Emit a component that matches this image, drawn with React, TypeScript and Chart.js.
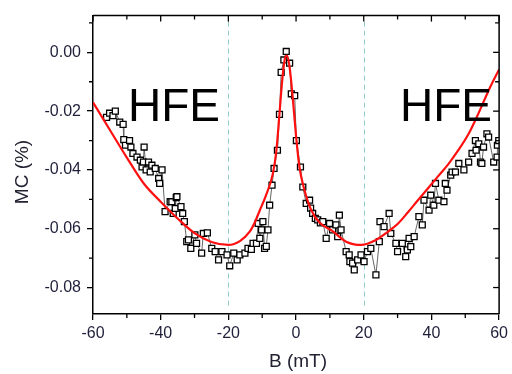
import React, { useEffect, useRef } from "react";
import { Chart, registerables } from "chart.js";

Chart.register(...registerables);

// Measured data (B in mT, MC in %)
const bField = [
  -56.0, -55.1, -54.1, -53.4, -52.1, -51.1, -50.9, -50.4, -49.2, -48.8, -48.2, -47.0, -46.0, -45.5, -45.1, -44.9,
  -44.3, -43.6, -43.1, -42.6, -41.6, -40.6, -40.3, -39.6, -38.7, -37.2, -36.7, -36.3, -35.7, -35.4, -35.2, -34.0,
  -33.5, -33.0, -32.3, -31.8, -31.1, -29.9, -29.4, -27.9, -27.4, -26.2, -24.9, -23.9, -22.9, -21.9, -20.4, -19.6,
  -18.4, -17.4, -16.6, -15.1, -14.2, -13.2, -12.7, -11.7, -11.2, -10.7, -10.2, -9.8, -9.3, -8.8, -8.3, -7.8,
  -7.1, -6.5, -5.5, -4.9, -4.4, -3.6, -2.9, -1.9, -1.4, -0.4, 0.1, 1.3, 2.0, 3.0, 4.0, 4.3,
  4.9, 5.7, 6.4, 7.2, 7.9, 8.9, 9.9, 10.8, 11.8, 12.3, 12.8, 13.3, 14.8, 15.7, 15.9, 16.7,
  17.2, 18.2, 19.2, 20.1, 21.1, 22.1, 23.6, 24.6, 24.8, 26.0, 27.5, 28.0, 29.5, 30.0, 31.4, 32.4,
  32.9, 33.4, 33.9, 34.9, 36.3, 37.3, 37.8, 39.3, 39.8, 40.7, 41.2, 42.2, 43.7, 44.1, 44.6, 45.7,
  46.1, 47.1, 48.1, 49.6, 51.0, 52.0, 53.0, 53.2, 54.0, 54.5, 54.9, 55.4, 56.4, 56.9, 58.4, 59.4,
  59.5, 59.9,
];
const mcData = [
  -0.0221, -0.0207, -0.0215, -0.0200, -0.0237, -0.0245, -0.0297, -0.0316, -0.0300, -0.0322, -0.0344, -0.0356, -0.0367, -0.0390, -0.0373, -0.0322,
  -0.0400, -0.0373, -0.0407, -0.0384, -0.0395, -0.0429, -0.0446, -0.0400, -0.0542, -0.0508, -0.0508, -0.0548, -0.0531, -0.0494, -0.0491, -0.0525,
  -0.0548, -0.0576, -0.0644, -0.0638, -0.0667, -0.0621, -0.0650, -0.0683, -0.0616, -0.0614, -0.0667, -0.0678, -0.0706, -0.0678, -0.0689, -0.0726,
  -0.0683, -0.0706, -0.0689, -0.0683, -0.0667, -0.0670, -0.0650, -0.0650, -0.0582, -0.0633, -0.0604, -0.0576, -0.0667, -0.0660, -0.0604, -0.0520,
  -0.0452, -0.0395, -0.0333, -0.0211, -0.0068, -0.0026, 0.0003, -0.0037, -0.0141, -0.0147, -0.0300, -0.0390, -0.0458, -0.0514, -0.0503, -0.0530,
  -0.0548, -0.0565, -0.0570, -0.0580, -0.0576, -0.0633, -0.0582, -0.0604, -0.0587, -0.0627, -0.0554, -0.0604, -0.0678, -0.0689, -0.0712, -0.0717,
  -0.0740, -0.0706, -0.0689, -0.0712, -0.0678, -0.0667, -0.0757, -0.0644, -0.0576, -0.0593, -0.0548, -0.0616, -0.0650, -0.0678, -0.0650, -0.0695,
  -0.0672, -0.0633, -0.0661, -0.0627, -0.0559, -0.0587, -0.0503, -0.0537, -0.0486, -0.0520, -0.0446, -0.0503, -0.0508, -0.0446, -0.0469, -0.0418,
  -0.0407, -0.0407, -0.0378, -0.0400, -0.0373, -0.0344, -0.0300, -0.0333, -0.0311, -0.0373, -0.0378, -0.0322, -0.0277, -0.0288, -0.0373, -0.0356,
  -0.0316, -0.0300,
];

// Fit curve
const fitB = [
  -60, -55, -50, -45, -40, -35, -30, -25, -20, -16.6, -13.7, -12.1, -10.7, -9, -6.8,
  -5.8, -4.9, -3.9, -3.2, -2.7, -1.9, -0.9, 0, 1, 2.5, 4.5, 7, 10.8, 14.8, 19.2, 23.6,
  27.5, 30, 33, 36, 39, 42, 45, 48, 51, 54, 57, 60,
];
const fitMC = [
  -0.0170, -0.0264, -0.0358, -0.0446, -0.0508, -0.0565, -0.0615, -0.0645, -0.0655, -0.0642, -0.0610, -0.0576, -0.0537, -0.0490, -0.0410,
  -0.0333, -0.0209, -0.0073, -0.0017, -0.0011, -0.0051, -0.0164, -0.0285, -0.0390, -0.0469, -0.0537, -0.0580, -0.0608, -0.0644, -0.0655, -0.0638,
  -0.0607, -0.0584, -0.0545, -0.0503, -0.0462, -0.0421, -0.0380, -0.0332, -0.0277, -0.0205, -0.0127, -0.0058,
];

const xTicks = [-60, -50, -40, -30, -20, -10, 0, 10, 20, 30, 40, 50, 60];
const xLabelTicks = [-60, -40, -20, 0, 20, 40, 60];
const yTicks = [-0.08, -0.07, -0.06, -0.05, -0.04, -0.03, -0.02, -0.01, 0.0, 0.01];
const yLabelTicks = [-0.08, -0.06, -0.04, -0.02, 0.0];
const markerLines = [-20, 20];
const regionLabels = ["HFE", "HFE"];

const isMajor = (v: number, list: number[]) => list.some((t) => Math.abs(t - v) < 1e-9);

const decorPlugin = {
  id: "decor",
  beforeDatasetsDraw(chart: any) {
    const { ctx, chartArea, scales } = chart;
    const xs = scales.x;
    ctx.save();
    ctx.strokeStyle = "#8fcaca";
    ctx.lineWidth = 1;
    ctx.setLineDash([5, 4]);
    markerLines.forEach((v) => {
      const px = Math.round(xs.getPixelForValue(v)) + 0.5;
      ctx.beginPath();
      ctx.moveTo(px, chartArea.top + 6);
      ctx.lineTo(px, chartArea.bottom - 8);
      ctx.stroke();
    });
    ctx.restore();
  },
  afterDraw(chart: any) {
    const { ctx, chartArea, scales } = chart;
    const xs = scales.x;
    const ys = scales.y;
    const { left, right, top, bottom } = chartArea;
    ctx.save();
    ctx.strokeStyle = "#000";
    ctx.lineWidth = 1.5;
    ctx.beginPath();
    ctx.moveTo(left, top);
    ctx.lineTo(right, top);
    ctx.lineTo(right, bottom);
    ctx.stroke();
    ctx.lineWidth = 1.3;
    xTicks.forEach((v) => {
      const px = xs.getPixelForValue(v);
      const major = isMajor(v, xLabelTicks);
      const len = major ? 6 : 4;
      ctx.beginPath();
      ctx.moveTo(px, top);
      ctx.lineTo(px, top + len);
      if (!major) {
        ctx.moveTo(px, bottom);
        ctx.lineTo(px, bottom + len);
      }
      ctx.stroke();
    });
    yTicks.forEach((v) => {
      const py = ys.getPixelForValue(v);
      const major = isMajor(v, yLabelTicks);
      const len = major ? 6 : 4;
      ctx.beginPath();
      ctx.moveTo(right, py);
      ctx.lineTo(right - len, py);
      if (!major) {
        ctx.moveTo(left, py);
        ctx.lineTo(left - len, py);
      }
      ctx.stroke();
    });
    ctx.fillStyle = "#000";
    ctx.font = "46px Arial";
    ctx.textAlign = "left";
    ctx.textBaseline = "alphabetic";
    ctx.fillText(regionLabels[0], 128, 121);
    ctx.fillText(regionLabels[1], 400, 121);
    ctx.fillStyle = "#222233";
    ctx.font = "19px Arial";
    ctx.textAlign = "center";
    ctx.textBaseline = "middle";
    ctx.fillText("B (mT)", 298, 362);
    ctx.translate(23, 172);
    ctx.rotate(-Math.PI / 2);
    ctx.fillText("MC (%)", 0, 0);
    ctx.restore();
  },
};

export default function App() {
  const ref = useRef<HTMLCanvasElement | null>(null);
  useEffect(() => {
    if (!ref.current) return;
    const chart = new Chart(ref.current, {
      type: "line",
      data: {
        datasets: [
          {
            label: "fit",
            data: fitB.map((b, i) => ({ x: b, y: fitMC[i] })),
            borderColor: "#ff1010",
            borderWidth: 2.2,
            pointRadius: 0,
            cubicInterpolationMode: "monotone",
            fill: false,
          },
          {
            label: "MC",
            data: bField.map((b, i) => ({ x: b, y: mcData[i] })),
            borderColor: "#666",
            borderWidth: 1,
            pointStyle: "rect",
            pointRadius: 4.2,
            pointBorderColor: "#000",
            pointBackgroundColor: "#fff",
            pointBorderWidth: 1.3,
            tension: 0,
            fill: false,
          },
        ],
      },
      options: {
        responsive: false,
        animation: false,
        devicePixelRatio: 1,
        layout: { padding: { top: 13, right: 11, left: 0, bottom: 0 } },
        plugins: { legend: { display: false }, tooltip: { enabled: false } },
        scales: {
          x: {
            type: "linear",
            min: -60,
            max: 60,
            afterFit: (s: any) => {
              s.height = 60;
            },
            afterBuildTicks: (s: any) => {
              s.ticks = xTicks.map((v) => ({ value: v }));
            },
            ticks: {
              autoSkip: false,
              maxRotation: 0,
              padding: 4,
              color: "#1f1f3a",
              font: { family: "Arial", size: 16 },
              callback: (v: any) => (isMajor(Number(v), xLabelTicks) ? String(v) : ""),
            },
            grid: {
              display: true,
              drawOnChartArea: false,
              drawTicks: true,
              tickLength: 6,
              lineWidth: 1.3,
              color: (c: any) => (c.tick && isMajor(c.tick.value, xLabelTicks) ? "#000" : "rgba(0,0,0,0)"),
            },
            border: { display: true, color: "#000", width: 1.5 },
          },
          y: {
            type: "linear",
            min: -0.089,
            max: 0.0125,
            afterFit: (s: any) => {
              s.width = 93;
            },
            afterBuildTicks: (s: any) => {
              s.ticks = yTicks.map((v) => ({ value: v }));
            },
            ticks: {
              autoSkip: false,
              padding: 6,
              color: "#1f1f3a",
              font: { family: "Arial", size: 16 },
              callback: (v: any) => (isMajor(Number(v), yLabelTicks) ? Number(v).toFixed(2) : ""),
            },
            grid: {
              display: true,
              drawOnChartArea: false,
              drawTicks: true,
              tickLength: 6,
              lineWidth: 1.3,
              color: (c: any) => (c.tick && isMajor(c.tick.value, yLabelTicks) ? "#000" : "rgba(0,0,0,0)"),
            },
            border: { display: true, color: "#000", width: 1.5 },
          },
        },
      },
      plugins: [decorPlugin],
    } as any);
    return () => chart.destroy();
  }, []);
  return (
    <div style={{ position: "absolute", left: 0, top: 0, width: 512, height: 374, background: "#fff" }}>
      <canvas ref={ref} width={512} height={374} />
    </div>
  );
}
